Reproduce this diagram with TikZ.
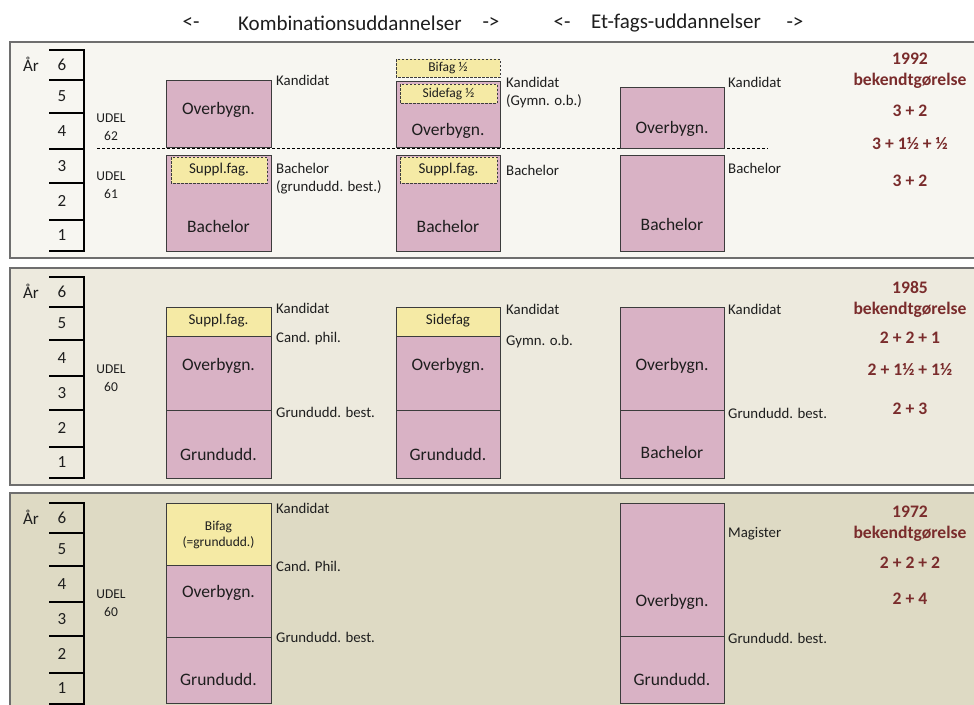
\documentclass[tikz,border=0pt]{standalone}
\usepackage{fontspec}
\setmainfont{Carlito}
\definecolor{pinkf}{RGB}{217,178,197}
\definecolor{yelf}{RGB}{245,234,165}
\definecolor{pan1}{RGB}{247,246,241}
\definecolor{pan2}{RGB}{237,234,222}
\definecolor{pan3}{RGB}{222,218,196}
\definecolor{panb}{RGB}{110,110,110}
\definecolor{boxb}{RGB}{60,60,60}
\definecolor{maroon}{RGB}{122,44,44}
\definecolor{txt}{RGB}{30,30,30}
\newcommand\yearscale[2]{%
  \foreach \o in {0,30,63,98.5,133,169.5,201} {\draw[tickst] (49,#1+\o) -- (84,#1+\o);}
  \draw[vst] (84,#1-1) -- (84,#1+202);
  \foreach \n/\m in {6/15,5/46.5,4/80.75,3/115.75,2/151.25,1/185.25}
    {\node[num] (#2n\n) at (62,#1+\m) {\n};}
  \node[num] (#2ar) at (31,#1+14) {År};
}
\begin{document}
\begin{tikzpicture}[x=1pt,y=-1pt,
  panel/.style={draw=panb,line width=1.4pt},
  pbox/.style={fill=pinkf,draw=boxb,line width=0.8pt},
  ybox/.style={fill=yelf,draw=boxb,line width=0.8pt},
  ydash/.style={fill=yelf,draw=boxb,line width=0.8pt,dash pattern=on 2.5pt off 1.5pt},
  sepline/.style={draw=black,line width=0.8pt,dash pattern=on 3pt off 2pt},
  tickst/.style={line width=2pt,black},
  vst/.style={line width=2.4pt,black},
  blab/.style={font=\fontsize{17.5}{18}\selectfont,text=txt,inner sep=0},
  slab/.style={font=\fontsize{14.8}{15}\selectfont,anchor=west,inner sep=0,text=txt},
  ylab/.style={font=\fontsize{15}{16}\selectfont,inner sep=0,text=txt},
  ylabs/.style={font=\fontsize{13.5}{16}\selectfont,inner sep=0,text=txt,align=center},
  rlab/.style={font=\bfseries\fontsize{17.6}{18}\selectfont,text=maroon,inner sep=0},
  udel/.style={font=\fontsize{13.5}{18.5}\selectfont,align=center,inner sep=0,text=txt},
  num/.style={font=\fontsize{17}{18}\selectfont,inner sep=0,text=txt},
  ttl/.style={font=\fontsize{21}{22}\selectfont,inner sep=0,text=txt}]
\useasboundingbox (0,0) rectangle (974,704);
\begin{scope}
\clip (0,0) rectangle (974,704);
\fill[white] (0,0) rectangle (974,704);
% titles
\node[ttl] (t1a) at (191,23) {<-};
\node[ttl] (t1) at (350,23) {Kombinationsuddannelser};
\node[ttl] (t1b) at (491,23) {->};
\node[ttl] (t2a) at (562,23) {<-};
\node[ttl] (t2) at (676,23) {Et-fags-uddannelser};
\node[ttl] (t2b) at (795,23) {->};
% ================= panel 1 (1992)
\filldraw[panel,fill=pan1] (10,42) rectangle (995,258);
\yearscale{50}{a}
\node[udel] (u62) at (111,127) {UDEL\\62};
\node[udel] (u61) at (111,185) {UDEL\\61};
\draw[sepline] (97,148) -- (768,148);
% column A
\filldraw[pbox] (166,80) rectangle (271,147);
\node[blab] (p1ao) at (218.5,110) {Overbygn.};
\filldraw[pbox] (166,155) rectangle (271,251);
\filldraw[ydash] (171,157) rectangle (267,183);
\node[ylab] (p1as) at (219,170) {Suppl.fag.};
\node[blab] (p1ab) at (218.5,226) {Bachelor};
% column B
\filldraw[ydash] (396,59) rectangle (500,77);
\node[ylabs] (p1bb) at (448,68) {Bifag ½};
\filldraw[pbox] (396,81) rectangle (500,147);
\filldraw[ydash] (400,84) rectangle (497,103);
\node[ylabs] (p1bs) at (448.5,93.5) {Sidefag ½};
\node[blab] (p1bo) at (448,131) {Overbygn.};
\filldraw[pbox] (396,155) rectangle (500,251);
\filldraw[ydash] (400,157) rectangle (497,183);
\node[ylab] (p1bsu) at (448.5,170) {Suppl.fag.};
\node[blab] (p1bba) at (448,226) {Bachelor};
% column C
\filldraw[pbox] (620,87) rectangle (724,148);
\node[blab] (p1co) at (672,129) {Overbygn.};
\filldraw[pbox] (620,155) rectangle (724,251);
\node[blab] (p1cb) at (672,224) {Bachelor};
% labels
\node[slab] (l1a1) at (276,80) {Kandidat};
\node[slab] (l1a2) at (276,168) {Bachelor};
\node[slab] (l1a3) at (276,187) {(grundudd. best.)};
\node[slab] (l1b1) at (506,82) {Kandidat};
\node[slab] (l1b2) at (506,101) {(Gymn. o.b.)};
\node[slab] (l1b3) at (506,170) {Bachelor};
\node[slab] (l1c1) at (728,82) {Kandidat};
\node[slab] (l1c2) at (728,168) {Bachelor};
% right
\node[rlab] (r1a) at (910,59) {1992};
\node[rlab] (r1b) at (910,81) {bekendtgørelse};
\node[rlab] (r1c) at (910,111) {3 + 2};
\node[rlab] (r1d) at (910,144) {3 + 1½ + ½};
\node[rlab] (r1e) at (910,181) {3 + 2};
% ================= panel 2 (1985)
\filldraw[panel,fill=pan2] (10,268) rectangle (995,485);
\yearscale{277}{b}
\node[udel] (u60b) at (111,378) {UDEL\\60};
% column A
\filldraw[ybox] (166,307) rectangle (271,336);
\node[ylab] (p2as) at (218.5,321) {Suppl.fag.};
\filldraw[pbox] (166,336) rectangle (271,410);
\node[blab] (p2ao) at (218.5,366) {Overbygn.};
\filldraw[pbox] (166,410) rectangle (271,478);
\node[blab] (p2ag) at (218.5,454) {Grundudd.};
% column B
\filldraw[ybox] (396,307) rectangle (500,336);
\node[ylab] (p2bs) at (448,321) {Sidefag};
\filldraw[pbox] (396,336) rectangle (500,410);
\node[blab] (p2bo) at (448,366) {Overbygn.};
\filldraw[pbox] (396,410) rectangle (500,478);
\node[blab] (p2bg) at (448,454) {Grundudd.};
% column C
\filldraw[pbox] (620,307) rectangle (724,410);
\node[blab] (p2co) at (672,366) {Overbygn.};
\filldraw[pbox] (620,410) rectangle (724,478);
\node[blab] (p2cb) at (672,452) {Bachelor};
% labels
\node[slab] (l2a1) at (276,308) {Kandidat};
\node[slab] (l2a2) at (276,339) {Cand. phil.};
\node[slab] (l2a3) at (276,412) {Grundudd. best.};
\node[slab] (l2b1) at (506,309) {Kandidat};
\node[slab] (l2b2) at (506,342) {Gymn. o.b.};
\node[slab] (l2c1) at (728,309) {Kandidat};
\node[slab] (l2c2) at (728,413) {Grundudd. best.};
% right
\node[rlab] (r2a) at (910,287) {1985};
\node[rlab] (r2b) at (910,310) {bekendtgørelse};
\node[rlab] (r2c) at (910,338) {2 + 2 + 1};
\node[rlab] (r2d) at (910,369) {2 + 1½ + 1½};
\node[rlab] (r2e) at (910,409) {2 + 3};
% ================= panel 3 (1972)
\filldraw[panel,fill=pan3] (10,493) rectangle (995,720);
\yearscale{503}{c}
\node[udel] (u60c) at (111,603) {UDEL\\60};
% column A
\filldraw[ybox] (166,503) rectangle (271,565);
\node[ylabs] (p3ay) at (218.5,535) {Bifag\\(=grundudd.)};
\filldraw[pbox] (166,565) rectangle (271,637);
\node[blab] (p3ao) at (218.5,593) {Overbygn.};
\filldraw[pbox] (166,637) rectangle (271,703);
\node[blab] (p3ag) at (218.5,679) {Grundudd.};
% column C
\filldraw[pbox] (620,503) rectangle (724,636);
\node[blab] (p3co) at (672,602) {Overbygn.};
\filldraw[pbox] (620,636) rectangle (724,703);
\node[blab] (p3cg) at (672,679) {Grundudd.};
% labels
\node[slab] (l3a1) at (276,508) {Kandidat};
\node[slab] (l3a2) at (276,566) {Cand. Phil.};
\node[slab] (l3a3) at (276,637) {Grundudd. best.};
\node[slab] (l3c1) at (728,534) {Magister};
\node[slab] (l3c2) at (728,638) {Grundudd. best.};
% right
\node[rlab] (r3a) at (910,512) {1972};
\node[rlab] (r3b) at (910,534) {bekendtgørelse};
\node[rlab] (r3c) at (910,563) {2 + 2 + 2};
\node[rlab] (r3d) at (910,599) {2 + 4};
\end{scope}
\end{tikzpicture}
\end{document}
